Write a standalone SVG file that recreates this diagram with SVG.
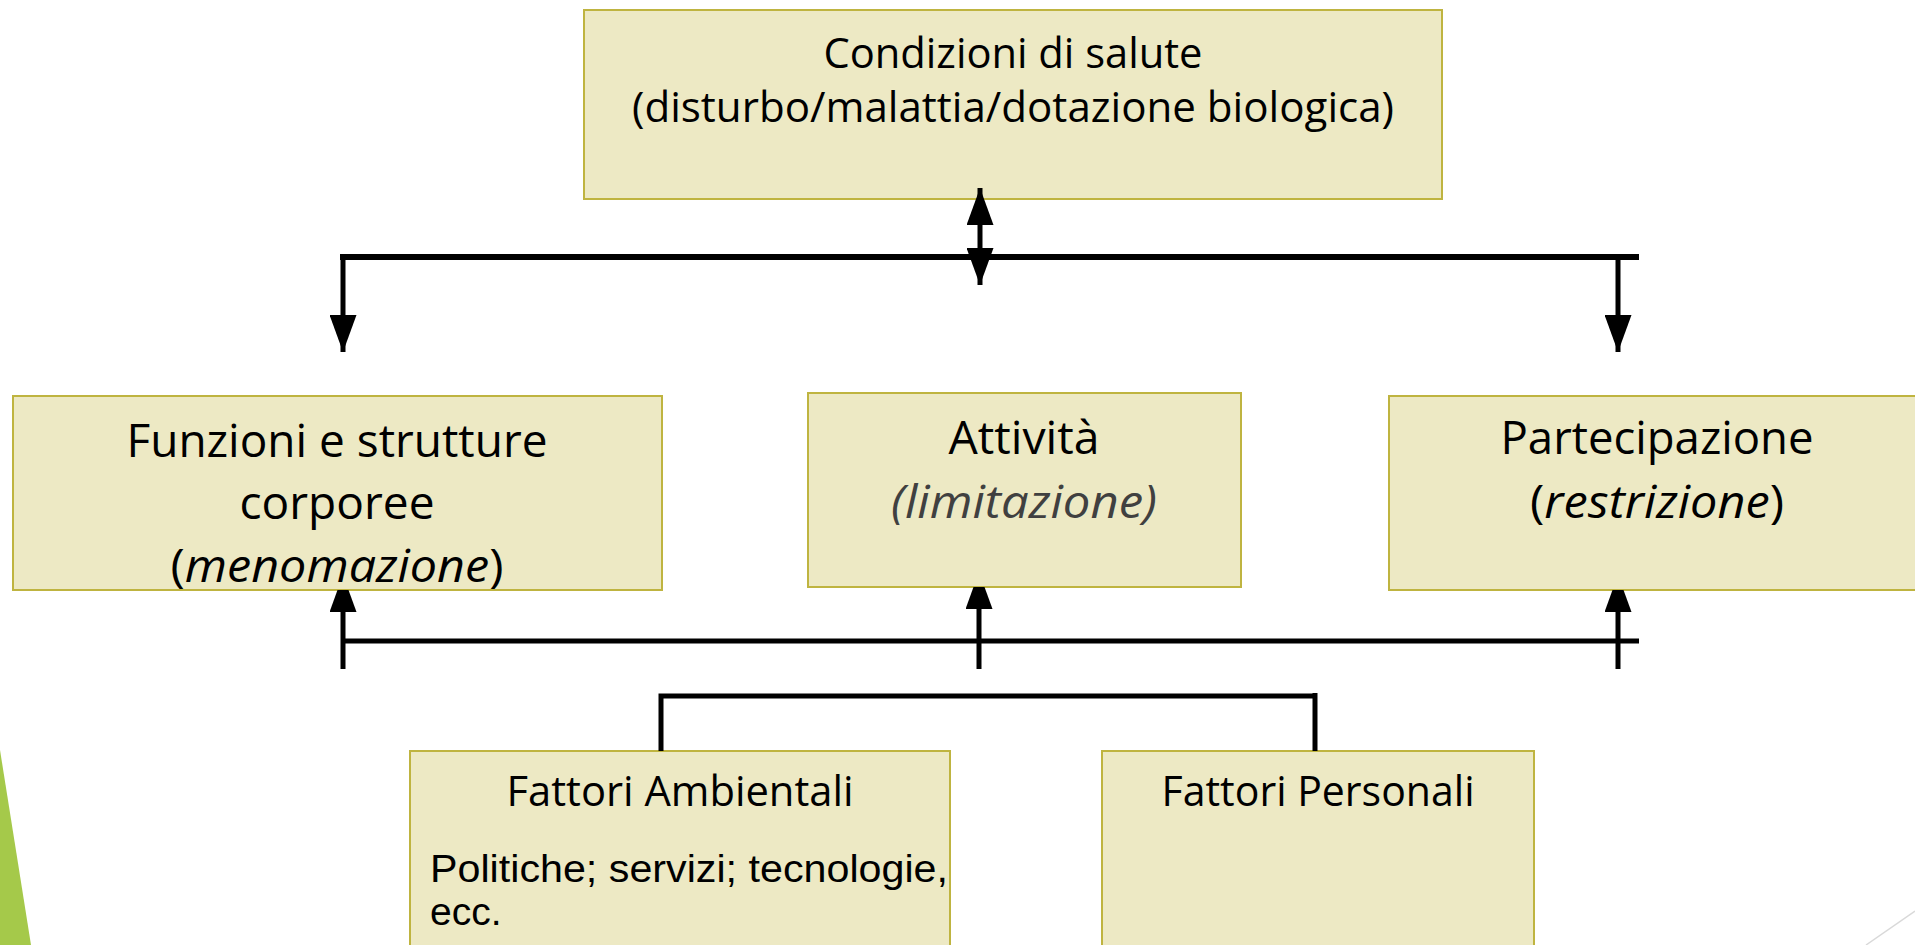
<svg xmlns="http://www.w3.org/2000/svg" width="1915" height="945" viewBox="0 0 1915 945">
<defs>
<style>
.box{fill:#EDE9C4;stroke:#BFB440;stroke-width:2}
.t{font-family:"Open Sans","Noto Sans",sans-serif;fill:#000;text-anchor:middle}
.a{font-family:"Liberation Sans",Arial,sans-serif;fill:#000}
.ln{stroke:#000;fill:none}
.it{font-style:italic}
</style>
<marker id="tri" viewBox="0 0 37 27" refX="37" refY="13.5" markerWidth="37" markerHeight="27" markerUnits="userSpaceOnUse" orient="auto-start-reverse">
<path d="M0,0 L37,13.5 L0,27 Z" fill="#000"/>
</marker>
<marker id="cut" viewBox="0 0 22 27" refX="22" refY="13.5" markerWidth="22" markerHeight="27" markerUnits="userSpaceOnUse" orient="auto">
<path d="M0,0 L22,8 L22,19 L0,27 Z" fill="#000"/>
</marker>
<marker id="barb" viewBox="0 0 34 26" refX="34" refY="13" markerWidth="34" markerHeight="26" markerUnits="userSpaceOnUse" orient="auto-start-reverse">
<path d="M0,0 L34,13 L0,26 L10,13 Z" fill="#000"/>
</marker>
<filter id="sh" x="-10%" y="-100%" width="120%" height="400%">
<feDropShadow dx="0" dy="4" stdDeviation="4" flood-color="#000" flood-opacity="0.35"/>
</filter>
</defs>
<rect width="1915" height="945" fill="#fff"/>
<polygon points="0,750 31,945 0,945" fill="#A5C94A"/>
<line x1="1915" y1="911" x2="1866" y2="945" stroke="#D9D9D9" stroke-width="1.5"/>

<g id="node-condizioni">
<rect class="box" x="584" y="10" width="858" height="189"/>
<text class="t" x="1013" y="68" font-size="42" textLength="379" lengthAdjust="spacingAndGlyphs">Condizioni di salute</text>
<text class="t" x="1013" y="122" font-size="42" textLength="762" lengthAdjust="spacingAndGlyphs">(disturbo/malattia/dotazione biologica)</text>
</g>
<g id="node-funzioni">
<rect class="box" x="13" y="396" width="649" height="194"/>
<text class="t" x="337" y="457" font-size="46" textLength="421" lengthAdjust="spacingAndGlyphs">Funzioni e strutture</text>
<text class="t" x="337" y="519" font-size="46" textLength="195" lengthAdjust="spacingAndGlyphs">corporee</text>
<text class="t" x="337" y="582" font-size="46" textLength="333" lengthAdjust="spacingAndGlyphs">(<tspan class="it">menomazione</tspan>)</text>
</g>
<g id="node-attivita">
<rect class="box" x="808" y="393" width="433" height="194"/>
<text class="t" x="1024" y="454" font-size="46" textLength="151" lengthAdjust="spacingAndGlyphs">Attività</text>
<text class="t it" x="1024" y="518" font-size="46" fill="#404040" style="fill:#404040" textLength="266" lengthAdjust="spacingAndGlyphs">(limitazione)</text>
</g>
<g id="node-partecipazione">
<rect class="box" x="1389" y="396" width="540" height="194"/>
<text class="t" x="1657" y="454" font-size="46" textLength="313" lengthAdjust="spacingAndGlyphs">Partecipazione</text>
<text class="t" x="1657" y="518" font-size="46" textLength="254" lengthAdjust="spacingAndGlyphs">(<tspan class="it">restrizione</tspan>)</text>
</g>
<g id="node-ambientali">
<rect class="box" x="410" y="751" width="540" height="200"/>
<text class="t" x="680" y="806" font-size="42" textLength="347" lengthAdjust="spacingAndGlyphs">Fattori Ambientali</text>
<text class="a" x="430" y="882" font-size="39" textLength="518" lengthAdjust="spacingAndGlyphs">Politiche; servizi; tecnologie,</text>
<text class="a" x="430" y="925" font-size="39">ecc.</text>
</g>
<g id="node-personali">
<rect class="box" x="1102" y="751" width="432" height="200"/>
<text class="t" x="1318" y="806" font-size="42" textLength="313" lengthAdjust="spacingAndGlyphs">Fattori Personali</text>
</g>

<g id="connectors">
<line class="ln" x1="340" y1="257" x2="1639" y2="257" stroke-width="6"/>
<line class="ln" x1="980" y1="188" x2="980" y2="285" stroke-width="5" marker-start="url(#tri)" marker-end="url(#tri)"/>
<line class="ln" x1="343" y1="254" x2="343" y2="352" stroke-width="5" marker-end="url(#tri)"/>
<line class="ln" x1="1618" y1="257" x2="1618" y2="352" stroke-width="5" marker-end="url(#tri)"/>
<line class="ln" x1="636" y1="449" x2="860" y2="449" stroke-width="4" marker-start="url(#barb)" marker-end="url(#barb)" filter="url(#sh)"/>
<line class="ln" x1="1191" y1="449" x2="1413" y2="449" stroke-width="4" marker-start="url(#barb)" marker-end="url(#barb)" filter="url(#sh)"/>
<line class="ln" x1="343" y1="641" x2="1639" y2="641" stroke-width="5"/>
<line class="ln" x1="343" y1="669" x2="343" y2="590" stroke-width="5" marker-end="url(#cut)"/>
<line class="ln" x1="979" y1="669" x2="979" y2="587" stroke-width="5" marker-end="url(#cut)"/>
<line class="ln" x1="1618" y1="669" x2="1618" y2="590" stroke-width="5" marker-end="url(#cut)"/>
<path class="ln" d="M661,751 V696 H1314" stroke-width="5"/>
<line class="ln" x1="1315" y1="693" x2="1315" y2="751" stroke-width="5"/>
</g>
</svg>
